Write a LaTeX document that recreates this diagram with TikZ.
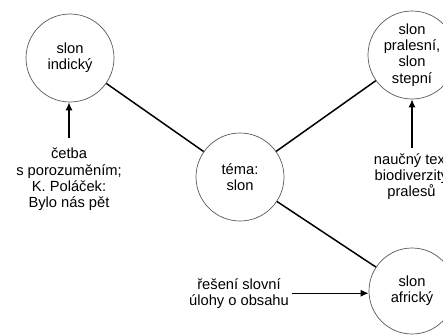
\documentclass[tikz,border=0pt]{standalone}
\usepackage{fontspec}
\setmainfont{Liberation Sans}
\usetikzlibrary{arrows.meta}
\begin{document}
\begin{tikzpicture}[x=1pt,y=-1pt,
  bubble/.style={circle,draw=black!65,line width=0.7pt,minimum size=88pt,inner sep=0pt,align=center,font=\fontsize{14.7}{16.2}\selectfont},
  label/.style={align=center,inner sep=0pt,font=\fontsize{14.7}{16.2}\selectfont},
  link/.style={line width=1.5pt},
  feed/.style={line width=1.3pt,-{Latex[length=8pt,width=7pt]}}]
\useasboundingbox (0,0) rectangle (443,334);
\node[bubble] (ind) at (70,58) {slon\\indický};
\node[bubble] (pra) at (412,55) {slon\\pralesní,\\slon\\stepní};
\node[bubble] (tema) at (240,177) {téma:\\slon};
\node[bubble,minimum size=86pt] (afr) at (412,291) {slon\\africký};
\node[label,anchor=north] (ctext) at (69,148) {četba\\s porozuměním;\\K. Poláček:\\Bylo nás pět};
\node[label,anchor=north] (ntext) at (411.5,153) {naučný text\\biodiverzity\\pralesů};
\node[label,anchor=north] (rtext) at (239,278) {řešení slovní\\úlohy o obsahu};
\draw[link] (ind) -- (tema);
\draw[link] (tema) -- (pra);
\draw[link] (tema) -- (afr);
\draw[feed] ([yshift=10pt]ctext.north) -- (ctext.north |- ind.south);
\coordinate (ns) at ([yshift=5pt]ntext.north);
\draw[feed] (ns -| pra.south) -- (pra.south);
\coordinate (rs) at ([xshift=3pt]rtext.east);
\draw[feed] (rs) -- (rs -| afr.west);
\end{tikzpicture}
\end{document}
